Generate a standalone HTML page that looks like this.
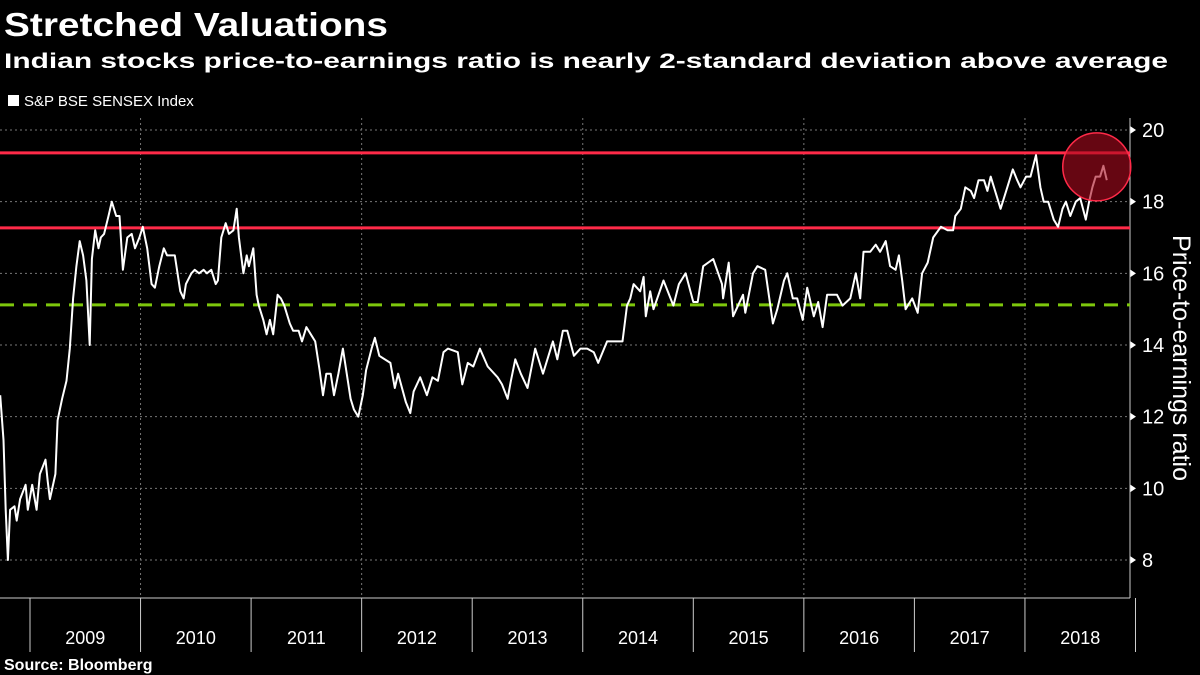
<!DOCTYPE html>
<html><head><meta charset="utf-8"><style>
html,body{margin:0;padding:0;background:#000;}
svg{display:block;font-family:"Liberation Sans","DejaVu Sans",sans-serif;}
</style></head><body>
<svg id="chart" width="1200" height="675" viewBox="0 0 1200 675">
<rect width="1200" height="675" fill="#000"/>
<text x="4" y="36" fill="#fff" font-size="33" font-weight="bold" textLength="384" lengthAdjust="spacingAndGlyphs">Stretched Valuations</text>
<text x="4" y="68" fill="#fff" font-size="21" font-weight="bold" textLength="1164" lengthAdjust="spacingAndGlyphs">Indian stocks price-to-earnings ratio is nearly 2-standard deviation above average</text>
<rect x="8" y="95" width="11" height="11" fill="#fff"/>
<text x="24" y="106" fill="#fff" font-size="15">S&amp;P BSE SENSEX Index</text>
<text x="4" y="670" fill="#fff" font-size="16" font-weight="bold">Source: Bloomberg</text>
<text transform="translate(1173,358) rotate(90)" text-anchor="middle" fill="#fff" font-size="25">Price-to-earnings ratio</text>
<g id="grid"></g>
<g id="axes"></g>
<g id="refs"></g>
<g id="series"></g>
</svg>
<script>
const yTicks=[8,10,12,14,16,18,20];
const yearLabels=["2009","2010","2011","2012","2013","2014","2015","2016","2017","2018"];
const gridYears=[2010,2012,2014,2016,2018];
const upperBand=19.36, lowerBand=17.27, meanLine=15.12;
const dates=[2008.73,2008.76,2008.78,2008.80,2008.82,2008.86,2008.88,2008.91,2008.96,2008.98,2009.02,2009.06,2009.09,2009.14,2009.16,2009.18,2009.23,2009.25,2009.29,2009.33,2009.36,2009.39,2009.42,2009.45,2009.48,2009.51,2009.54,2009.56,2009.59,2009.62,2009.64,2009.67,2009.71,2009.74,2009.78,2009.81,2009.84,2009.88,2009.92,2009.95,2009.99,2010.02,2010.06,2010.10,2010.13,2010.17,2010.21,2010.24,2010.28,2010.31,2010.36,2010.39,2010.41,2010.46,2010.49,2010.53,2010.57,2010.60,2010.64,2010.68,2010.70,2010.73,2010.77,2010.80,2010.84,2010.87,2010.89,2010.93,2010.96,2010.98,2011.02,2011.05,2011.07,2011.11,2011.14,2011.17,2011.20,2011.24,2011.27,2011.30,2011.35,2011.38,2011.43,2011.46,2011.50,2011.54,2011.58,2011.62,2011.65,2011.68,2011.72,2011.75,2011.79,2011.83,2011.86,2011.90,2011.93,2011.97,2012.01,2012.04,2012.09,2012.12,2012.16,2012.26,2012.30,2012.33,2012.40,2012.44,2012.47,2012.53,2012.59,2012.64,2012.69,2012.74,2012.78,2012.87,2012.91,2012.96,2013.01,2013.07,2013.14,2013.23,2013.27,2013.32,2013.35,2013.39,2013.44,2013.50,2013.57,2013.64,2013.73,2013.77,2013.82,2013.86,2013.92,2013.98,2014.04,2014.10,2014.14,2014.22,2014.28,2014.36,2014.40,2014.43,2014.46,2014.52,2014.55,2014.57,2014.61,2014.64,2014.73,2014.82,2014.87,2014.93,2015.00,2015.04,2015.09,2015.18,2015.26,2015.27,2015.32,2015.36,2015.45,2015.47,2015.54,2015.58,2015.65,2015.72,2015.76,2015.82,2015.85,2015.90,2015.94,2015.99,2016.03,2016.09,2016.13,2016.17,2016.21,2016.30,2016.35,2016.42,2016.47,2016.51,2016.54,2016.60,2016.65,2016.69,2016.74,2016.78,2016.83,2016.86,2016.89,2016.92,2016.98,2017.03,2017.07,2017.12,2017.17,2017.24,2017.30,2017.35,2017.37,2017.42,2017.46,2017.51,2017.54,2017.58,2017.63,2017.66,2017.69,2017.72,2017.78,2017.84,2017.89,2017.93,2017.96,2018.01,2018.05,2018.10,2018.14,2018.17,2018.21,2018.26,2018.30,2018.34,2018.37,2018.41,2018.46,2018.50,2018.55,2018.58,2018.61,2018.64,2018.68,2018.71,2018.74];
const peValues=[12.6,11.35,9.4,8.0,9.4,9.5,9.1,9.7,10.1,9.4,10.1,9.4,10.4,10.8,10.2,9.7,10.4,11.9,12.5,13.0,13.9,15.3,16.2,16.9,16.5,15.8,14.0,16.4,17.2,16.7,17.0,17.1,17.6,18.0,17.6,17.6,16.1,17.0,17.1,16.7,17.0,17.3,16.7,15.7,15.6,16.2,16.7,16.5,16.5,16.5,15.5,15.3,15.7,16.0,16.1,16.0,16.1,16.0,16.1,15.7,15.8,17.0,17.4,17.1,17.2,17.8,17.0,16.0,16.5,16.2,16.7,15.4,15.1,14.7,14.3,14.7,14.3,15.4,15.3,15.1,14.6,14.4,14.4,14.1,14.5,14.3,14.1,13.3,12.6,13.2,13.2,12.6,13.2,13.9,13.3,12.5,12.2,12.0,12.6,13.3,13.9,14.2,13.7,13.5,12.8,13.2,12.4,12.1,12.7,13.1,12.6,13.1,13.0,13.8,13.9,13.8,12.9,13.5,13.4,13.9,13.4,13.1,12.9,12.5,13.0,13.6,13.2,12.8,13.9,13.2,14.1,13.6,14.4,14.4,13.7,13.9,13.9,13.8,13.5,14.1,14.1,14.1,15.1,15.3,15.7,15.5,15.9,14.8,15.5,15.0,15.8,15.1,15.7,16.0,15.2,15.2,16.2,16.4,15.7,15.3,16.3,14.8,15.4,14.9,16.0,16.2,16.1,14.6,15.0,15.8,16.0,15.3,15.3,14.7,15.6,14.8,15.2,14.5,15.4,15.4,15.1,15.3,16.0,15.3,16.6,16.6,16.8,16.6,16.9,16.2,16.1,16.5,15.8,15.0,15.3,14.9,16.0,16.3,17.0,17.3,17.2,17.2,17.6,17.8,18.4,18.3,18.1,18.6,18.6,18.3,18.7,18.4,17.8,18.4,18.9,18.6,18.4,18.7,18.7,19.3,18.4,18.0,18.0,17.5,17.3,17.8,18.0,17.6,18.0,18.1,17.5,18.0,18.4,18.7,18.7,19.0,18.6];

const NS='http://www.w3.org/2000/svg';
const yPx=v=>560-(v-8)*35.833;
const xPx=d=>30+(d-2009)*110.55;
const AX=1130, TOP=118, BOT=598;
function mk(tag,attrs,parent){const e=document.createElementNS(NS,tag);for(const k in attrs)e.setAttribute(k,attrs[k]);parent.appendChild(e);return e;}
const grid=document.getElementById('grid'),axes=document.getElementById('axes'),refs=document.getElementById('refs'),series=document.getElementById('series');

yTicks.forEach(t=>{
  const g=mk('line',{x1:0,x2:AX,y1:yPx(t),y2:yPx(t),stroke:'#777','stroke-width':1,'stroke-dasharray':'2,3'},grid);
  
  
  const tk=mk('path',{d:`M${AX} ${yPx(t)-4}L${AX+6} ${yPx(t)}L${AX} ${yPx(t)+4}Z`,fill:'#fff'},axes);
  
  
  const lb=mk('text',{x:AX+12,y:yPx(t)+7,fill:'#fff','font-size':20},axes);
  lb.textContent=t;
  
  
});
gridYears.forEach(yr=>{
  const g=mk('line',{x1:xPx(yr),x2:xPx(yr),y1:TOP,y2:BOT,stroke:'#777','stroke-width':1,'stroke-dasharray':'2,3'},grid);
  
  
});
const ya=mk('line',{x1:AX,x2:AX,y1:TOP,y2:BOT,stroke:'#ccc','stroke-width':1},axes);


const xa=mk('line',{x1:0,x2:AX,y1:BOT,y2:BOT,stroke:'#ccc','stroke-width':1},axes);


yearLabels.forEach((lbl,i)=>{
  const yr=+lbl;
  const s=mk('line',{x1:xPx(yr),x2:xPx(yr),y1:BOT,y2:652,stroke:'#ccc','stroke-width':1},axes);
  
  
  const t=mk('text',{x:xPx(yr+0.5),y:644,fill:'#fff','font-size':18,'text-anchor':'middle'},axes);
  t.textContent=lbl;
  
  
});
const lastSep=mk('line',{x1:xPx(2019),x2:xPx(2019),y1:BOT,y2:652,stroke:'#ccc','stroke-width':1},axes);



const mean=mk('line',{x1:0,x2:AX,y1:yPx(meanLine),y2:yPx(meanLine),stroke:'#7ec70c','stroke-width':3,'stroke-dasharray':'14,9'},refs);


const lo=mk('line',{x1:0,x2:AX,y1:yPx(lowerBand),y2:yPx(lowerBand),stroke:'#ff2a48','stroke-width':3},refs);


const hi=mk('line',{x1:0,x2:AX,y1:yPx(upperBand),y2:yPx(upperBand),stroke:'#ff2a48','stroke-width':3},refs);



const d=dates.map((dt,i)=>(i?'L':'M')+xPx(dt).toFixed(1)+' '+yPx(peValues[i]).toFixed(1)).join('');
const p=mk('path',{d:d,fill:'none',stroke:'#fff','stroke-width':2,'stroke-linejoin':'round'},series);



const lastD=dates[dates.length-1];
const c=mk('circle',{cx:xPx(lastD)-10,cy:yPx(19.0)+1,r:34,fill:'rgba(170,10,30,0.6)',stroke:'#ff2a48','stroke-width':1.5},series);


</script>
</body></html>
